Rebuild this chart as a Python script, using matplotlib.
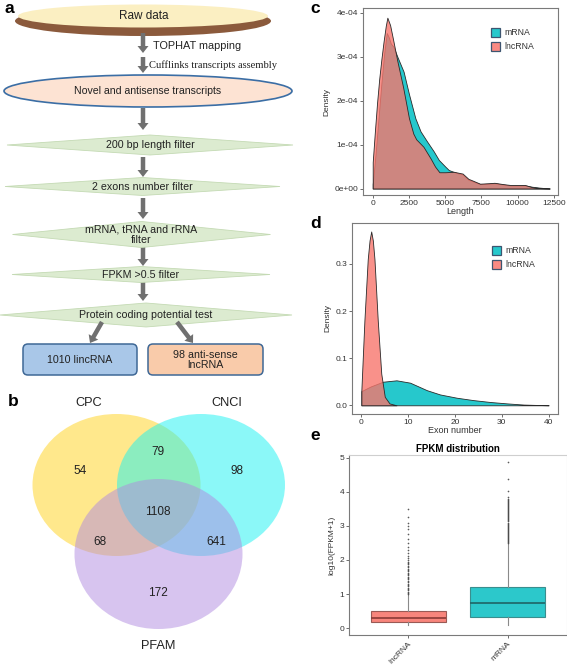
import matplotlib
matplotlib.use("Agg")
import matplotlib.pyplot as plt
from matplotlib.patches import Ellipse, Polygon, FancyBboxPatch, FancyArrow, Rectangle
from matplotlib.colors import to_rgba

plt.rcParams['font.family'] = ['Liberation Sans', 'DejaVu Sans']

W, H = 567, 671

# ---- data ----
flow_top = "Raw data"
flow_mid = "Novel and antisense transcripts"
flow_arrow_text = ["TOPHAT mapping", "Cufflinks transcripts assembly"]
flow_steps = ["200 bp length filter", "2 exons number filter",
              "mRNA, tRNA and rRNA\nfilter", "FPKM >0.5 filter",
              "Protein coding potential test"]
flow_outputs = ["1010 lincRNA", "98 anti-sense\nlncRNA"]

venn_sets = ["CPC", "CNCI", "PFAM"]
# only CPC, CPC&CNCI, only CNCI, all, CPC&PFAM, CNCI&PFAM, only PFAM
venn_counts = [54, 79, 98, 1108, 68, 641, 172]

series = ["mRNA", "lncRNA"]
series_colors = ["#00BFC4", "#F8766D"]

len_lnc_x = [0, 0, 150, 300, 450, 600, 750, 900, 1010, 1200, 1400, 1700, 2100, 2500,
             2800, 3000, 3500, 4000, 4300, 4600, 5000, 5600, 6200, 6600, 6900, 7400,
             8000, 8400, 9000, 9500, 10500, 11000, 11500, 12200]
len_lnc_y = [0, 0.6, 1.3, 1.95, 2.5, 2.95, 3.35, 3.7, 3.89, 3.72, 3.4, 2.9, 2.3, 1.6,
             1.25, 1.12, 0.95, 0.68, 0.5, 0.37, 0.37, 0.38, 0.34, 0.22, 0.18, 0.11,
             0.12, 0.13, 0.1, 0.08, 0.08, 0.03, 0.01, 0.0]
len_mrna_x = [0, 0, 200, 400, 600, 800, 970, 1100, 1250, 1430, 1700, 2130, 2500, 2940,
              3300, 3750, 4200, 4560, 5000, 5250, 5830, 6200, 6600, 7000, 7400, 8000,
              8400, 9000, 9500, 10500, 11000, 11500, 12200]
len_mrna_y = [0, 0.1, 0.8, 1.6, 2.4, 3.1, 3.54, 3.45, 3.3, 3.23, 3.0, 2.66, 2.15, 1.6,
              1.3, 1.07, 0.85, 0.65, 0.5, 0.42, 0.35, 0.32, 0.2, 0.15, 0.1, 0.11,
              0.12, 0.09, 0.07, 0.07, 0.04, 0.02, 0.0]

exon_lnc_x = [0, 0, 0.65, 1.36, 1.75, 2.1, 2.45, 2.8, 3.5, 4.25, 5.0, 6.0, 7.5]
exon_lnc_y = [0, 0.032, 0.18, 0.31, 0.35, 0.369, 0.35, 0.31, 0.18, 0.067, 0.018, 0.004, 0.0]
exon_mrna_x = [0, 0, 2, 4.6, 7.5, 10.4, 14, 16.8, 20.4, 23.9, 27.5, 31.1, 34.7, 40]
exon_mrna_y = [0, 0.03, 0.04, 0.05, 0.053, 0.048, 0.032, 0.023, 0.016, 0.011, 0.007,
               0.004, 0.0015, 0.0]

box_names = ["lncRNA", "mRNA"]
box_fill = ["#F8857C", "#2CC8CB"]
box_q1 = [0.18, 0.33]
box_med = [0.29, 0.75]
box_q3 = [0.50, 1.21]
box_lo = [0.08, 0.08]
box_hi = [0.96, 2.48]
lnc_fliers = [0.99, 1.03, 1.07, 1.11, 1.15, 1.19, 1.23, 1.27, 1.31, 1.35, 1.39, 1.43,
              1.47, 1.51, 1.55, 1.59, 1.63, 1.67, 1.71, 1.75, 1.79, 1.83, 1.87, 1.91,
              1.95, 2.0, 2.06, 2.12, 2.2, 2.28, 2.38, 2.5, 2.62, 2.77, 2.92, 3.01, 3.1,
              3.25, 3.5]
mrna_fliers = [2.5, 2.53, 2.56, 2.59, 2.62, 2.65, 2.68, 2.71, 2.74, 2.77, 2.8, 2.83,
               2.86, 2.89, 2.92, 2.95, 2.98, 3.01, 3.04, 3.07, 3.1, 3.13, 3.16, 3.19,
               3.22, 3.25, 3.28, 3.31, 3.34, 3.37, 3.4, 3.43, 3.46, 3.49, 3.52, 3.55,
               3.58, 3.61, 3.64, 3.67, 3.7, 3.73, 3.76, 3.8, 3.84, 4.03, 4.38, 4.87]

fig = plt.figure(figsize=(W / 100, H / 100), dpi=100)


def px_ax(x0, y0, x1, y1):
    return fig.add_axes([x0 / W, 1 - y1 / H, (x1 - x0) / W, (y1 - y0) / H])


def style(ax):
    for s in ax.spines.values():
        s.set_color("#7a7a7a")
        s.set_linewidth(0.8)
    ax.tick_params(labelsize=6, length=2, width=0.5, colors="#333333", pad=1.5)


# overlay in pixel units for the flowchart, venn, legends and panel letters
ov = px_ax(0, 0, W, H)
ov.set_xlim(0, W)
ov.set_ylim(H, 0)
ov.axis("off")
ov.set_zorder(5)
ov.patch.set_alpha(0)

# ---------- a: flowchart ----------
ov.add_patch(Ellipse((143, 21), 256, 30, fc="#8b5a3c", ec="none"))
ov.add_patch(Ellipse((143, 16), 250, 23, fc="#fbefc2", ec="none"))
ov.text(144, 16, flow_top, ha="center", va="center", fontsize=8.5, color="#222")

arrow_kw = dict(width=4.5, head_width=11, head_length=7, length_includes_head=True,
                color="#707070", lw=0)
for y0, y1 in [(33, 53), (57, 73), (108, 130), (157, 177), (198, 219), (247, 266),
               (282, 301)]:
    ov.add_patch(FancyArrow(143, y0, 0, y1 - y0, **arrow_kw))
ov.text(153, 46, flow_arrow_text[0], fontsize=7.8, va="center", color="#222")
ov.text(149, 65, flow_arrow_text[1], fontsize=7.6, va="center", color="#222",
        family=["Liberation Serif", "DejaVu Serif"])

ov.add_patch(Ellipse((148, 91), 288, 32, fc="#fde3d3", ec="#3b6ea5", lw=1.2))
ov.text(148, 91, flow_mid, ha="center", va="center", fontsize=7.6, color="#222")

diamonds = [(150, 145, 286, 20), (142.5, 186.5, 275, 18), (141.5, 234.5, 258, 26),
            (141, 274.5, 258, 16), (146, 315, 292, 24)]
for (cx, cy, w, h), label in zip(diamonds, flow_steps):
    ov.add_patch(Polygon([(cx - w / 2, cy), (cx, cy - h / 2), (cx + w / 2, cy),
                          (cx, cy + h / 2)], closed=True, fc="#dcebd0", ec="#c4dab4",
                         lw=0.6))
    ov.text(cx, cy, label, ha="center", va="center", fontsize=7.7, color="#222",
            linespacing=1.1)

ov.add_patch(FancyArrow(102, 322, -12, 21, **arrow_kw))
ov.add_patch(FancyArrow(177, 322, 16, 21, **arrow_kw))

for (x0, x1), label, fc in zip([(23, 137), (148, 263)], flow_outputs,
                               ["#a9c7e8", "#f9cbaa"]):
    ov.add_patch(FancyBboxPatch((x0, 344), x1 - x0, 31,
                                boxstyle="round,pad=0,rounding_size=5",
                                fc=fc, ec="#3f6896", lw=1.1))
    ov.text((x0 + x1) / 2, 360, label, ha="center", va="center", fontsize=7.7,
            color="#222", linespacing=1.1)

# ---------- b: venn ----------
venn_shapes = [((116.5, 485), 168, 142, "#ffd21a"),
               ((201, 485), 168, 142, "#19f2f2"),
               ((158.5, 554), 168, 150, "#b08ae0")]
for (c, w, h, col) in venn_shapes:
    ov.add_patch(Ellipse(c, w, h, fc=col, alpha=0.5, ec="none"))
venn_pos = [(80, 471), (158, 452), (237, 471), (158, 512), (100, 542), (216, 542),
            (158, 593)]
for (x, y), n in zip(venn_pos, venn_counts):
    ov.text(x, y, str(n), ha="center", va="center", fontsize=8.5, color="#222")
for (x, y), name in zip([(89, 403), (227, 403), (158, 646)], venn_sets):
    ov.text(x, y, name, ha="center", va="center", fontsize=9.2, color="#222")

# ---------- c: length density ----------
axc = px_ax(363, 8, 558, 195)
axc.fill_between(len_mrna_x, [v * 1e-4 for v in len_mrna_y],
                 facecolor=to_rgba(series_colors[0], 0.85), edgecolor="#2a2a2a", lw=0.6)
axc.fill_between(len_lnc_x, [v * 1e-4 for v in len_lnc_y],
                 facecolor=to_rgba(series_colors[1], 0.8), edgecolor="#2a2a2a", lw=0.6)
axc.set_xlim(-670, 12780)
axc.set_ylim(-0.148e-4, 4.11e-4)
axc.set_xticks([0, 2500, 5000, 7500, 10000, 12500])
axc.set_yticks([0, 1e-4, 2e-4, 3e-4, 4e-4])
axc.set_yticklabels(["0e+00", "1e-04", "2e-04", "3e-04", "4e-04"])
axc.set_xlabel("Length", fontsize=6.5, labelpad=0, color="#333")
axc.set_ylabel("Density", fontsize=6, labelpad=3, color="#333")
style(axc)

# ---------- d: exon number density ----------
axd = px_ax(352, 223, 558, 414)
axd.fill_between(exon_mrna_x, exon_mrna_y, facecolor=to_rgba(series_colors[0], 0.85),
                 edgecolor="#2a2a2a", lw=0.6)
axd.fill_between(exon_lnc_x, exon_lnc_y, facecolor=to_rgba(series_colors[1], 0.8),
                 edgecolor="#2a2a2a", lw=0.6)
axd.set_xlim(-2, 42)
axd.set_ylim(-0.0185, 0.387)
axd.set_xticks([0, 10, 20, 30, 40])
axd.set_yticks([0.0, 0.1, 0.2, 0.3])
axd.set_xlabel("Exon number", fontsize=6.5, labelpad=0, color="#333")
axd.set_ylabel("Density", fontsize=6, labelpad=3, color="#333")
style(axd)

for (lx, ly) in [(491, 28), (492, 246)]:
    for i, (name, col) in enumerate(zip(series, series_colors)):
        ov.add_patch(Rectangle((lx, ly + i * 14), 9, 9, fc=to_rgba(col, 0.85),
                               ec="#3d5570", lw=0.9))
        ov.text(lx + 13, ly + i * 14 + 4.5, name, va="center", fontsize=6.3, color="#333")

# ---------- e: FPKM boxplot ----------
axe = px_ax(349, 455, 567, 635)
stats = []
for i, name in enumerate(box_names):
    stats.append(dict(label=name, q1=box_q1[i], med=box_med[i], q3=box_q3[i],
                      whislo=box_lo[i], whishi=box_hi[i],
                      fliers=[lnc_fliers, mrna_fliers][i]))
bp = axe.bxp(stats, positions=[1, 2], widths=0.75, patch_artist=True,
             flierprops=dict(marker="o", markersize=1.2, markerfacecolor="#333",
                             markeredgecolor="none", alpha=0.8),
             whiskerprops=dict(color="#8a8a8a", lw=0.8),
             capprops=dict(lw=0))
for patch, fc, ec in zip(bp["boxes"], box_fill, ["#9a5a55", "#3a8e8e"]):
    patch.set_facecolor(fc)
    patch.set_edgecolor(ec)
    patch.set_linewidth(0.8)
for med, mc in zip(bp["medians"], ["#8b3a36", "#1f6566"]):
    med.set_color(mc)
    med.set_linewidth(1.2)
axe.set_xlim(0.4, 2.6)
axe.set_ylim(-0.2, 5.08)
axe.set_yticks([0, 1, 2, 3, 4, 5])
axe.set_xticks([1, 2])
axe.set_xticklabels(box_names, rotation=45, ha="right", rotation_mode="anchor")
axe.set_ylabel("log10(FPKM+1)", fontsize=6, labelpad=3, color="#333")
axe.set_title("FPKM distribution", fontsize=7, fontweight="bold", pad=2)
style(axe)
for s in ["top", "right"]:
    axe.spines[s].set_color("#cfcfcf")

# ---------- panel letters ----------
for (x, y), letter in zip([(9, 1), (13, 394), (315, 1), (316, 216), (315, 428)],
                          ["a", "b", "c", "d", "e"]):
    ov.text(x, y, letter, fontsize=12.5, fontweight="bold", va="top", ha="center")

fig.savefig("out.png", dpi=100)
